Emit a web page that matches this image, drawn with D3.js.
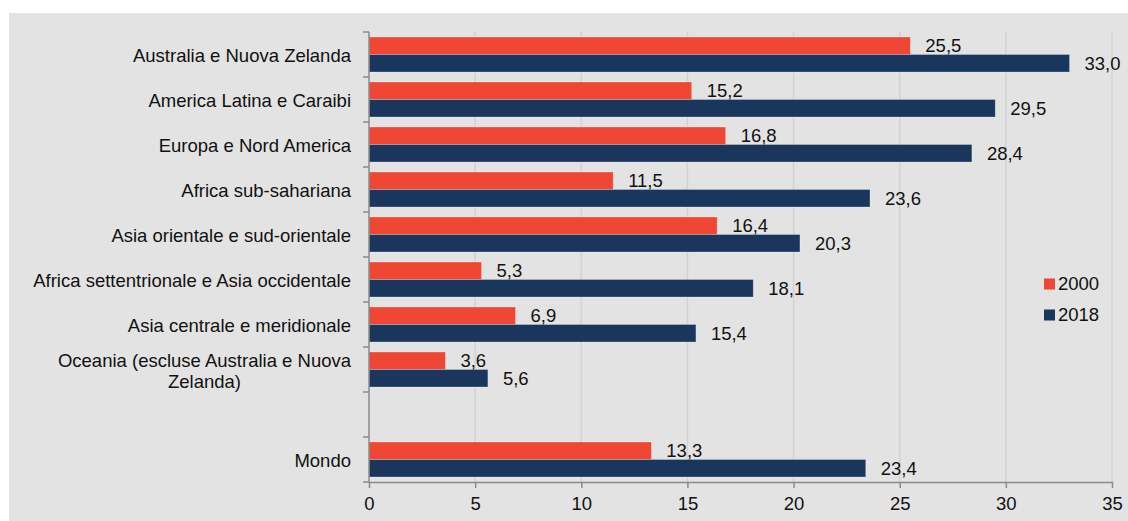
<!DOCTYPE html>
<html>
<head>
<meta charset="utf-8">
<script src="https://cdn.jsdelivr.net/npm/d3@7"></script>
<style>
  html, body { margin: 0; padding: 0; background: #ffffff; }
  svg { display: block; }
  text { font-family: "Liberation Sans", Arial, sans-serif; fill: #111; }
</style>
</head>
<body>
<svg id="chart" width="1128" height="521"></svg>
<script>
const categories = [
  "Australia e Nuova Zelanda",
  "America Latina e Caraibi",
  "Europa e Nord America",
  "Africa sub-sahariana",
  "Asia orientale e sud-orientale",
  "Africa settentrionale e Asia occidentale",
  "Asia centrale e meridionale",
  "Oceania (escluse Australia e Nuova Zelanda)",
  "",
  "Mondo"
];
const labelLines = [
  ["Australia e Nuova Zelanda"],
  ["America Latina e Caraibi"],
  ["Europa e Nord America"],
  ["Africa sub-sahariana"],
  ["Asia orientale e sud-orientale"],
  ["Africa settentrionale e Asia occidentale"],
  ["Asia centrale e meridionale"],
  ["Oceania (escluse Australia e Nuova", "Zelanda)"],
  [],
  ["Mondo"]
];
const series = ["2000", "2018"];
const values2000 = [25.5, 15.2, 16.8, 11.5, 16.4, 5.3, 6.9, 3.6, null, 13.3];
const values2018 = [33.0, 29.5, 28.4, 23.6, 20.3, 18.1, 15.4, 5.6, null, 23.4];
const xTicks = [0, 5, 10, 15, 20, 25, 30, 35];
const colors = { "2000": "#ef4733", "2018": "#1b365d" };

const svg = d3.select("#chart");
const FS = 18.5;

// background panel
svg.append("rect").attr("x", 9).attr("y", 13).attr("width", 1130).attr("height", 520).attr("fill", "#e3e3e3");

const x = d3.scaleLinear().domain([0, 35]).range([369, 1112]);
const y = d3.scaleBand().domain(categories.map((c, i) => i)).range([32, 482]).paddingInner(0).paddingOuter(0);
const ySub = d3.scaleBand().domain(series).range([0, y.bandwidth()]).paddingInner(0).paddingOuter(0.2857);

// gridlines
svg.append("g").selectAll("line").data(xTicks.filter(t => t > 0)).join("line")
  .attr("x1", d => x(d)).attr("x2", d => x(d))
  .attr("y1", 32).attr("y2", 482)
  .attr("stroke", "#d2d2d2").attr("stroke-width", 1.5);

const fmt = v => d3.format(".1f")(v).replace(".", ",");

const data = [];
categories.forEach((c, i) => {
  if (values2000[i] != null) data.push({ i, s: "2000", v: values2000[i] });
  if (values2018[i] != null) data.push({ i, s: "2018", v: values2018[i] });
});

// bars
svg.append("g").selectAll("rect").data(data).join("rect")
  .attr("x", x(0))
  .attr("y", d => y(d.i) + ySub(d.s))
  .attr("width", d => x(d.v) - x(0))
  .attr("height", ySub.bandwidth())
  .attr("fill", d => colors[d.s])
  .attr("stroke", "rgba(255,255,255,0.35)")
  .attr("stroke-width", 0.75);

// value labels
svg.append("g").selectAll("text").data(data).join("text")
  .attr("x", d => x(d.v) + 15)
  .attr("y", d => y(d.i) + ySub(d.s) + ySub.bandwidth() / 2)
  .attr("dy", "0.35em")
  .attr("font-size", FS)
  .text(d => fmt(d.v));

// x axis
const xAxis = d3.axisBottom(x).tickValues(xTicks).tickSize(6).tickSizeOuter(0).tickFormat(d3.format("d"));
const gx = svg.append("g").attr("transform", "translate(0,482)").call(xAxis);
gx.select(".domain").attr("stroke", "#8a8a8a").attr("stroke-width", 1.5);
gx.selectAll(".tick line").attr("stroke", "#8a8a8a").attr("stroke-width", 1.5);
gx.selectAll(".tick text").attr("font-size", FS).attr("font-family", "Liberation Sans, Arial, sans-serif").attr("fill", "#111").attr("dy", "1.05em");

// y axis line and ticks at band boundaries
svg.append("line").attr("x1", 369).attr("x2", 369).attr("y1", 32).attr("y2", 482)
  .attr("stroke", "#8a8a8a").attr("stroke-width", 1.5);
const bounds = categories.map((c, i) => y(i)).concat([y.range()[1]]);
svg.append("g").selectAll("line").data(bounds).join("line")
  .attr("x1", 363).attr("x2", 369).attr("y1", d => d).attr("y2", d => d)
  .attr("stroke", "#8a8a8a").attr("stroke-width", 1.5);

// category labels
const lg = svg.append("g");
labelLines.forEach((lines, i) => {
  if (!lines.length) return;
  const cy = y(i) + y.bandwidth() / 2 + 1;
  const lh = 21;
  if (lines.length === 1) {
    lg.append("text").attr("x", 351).attr("y", cy).attr("dy", "0.35em")
      .attr("text-anchor", "end").attr("font-size", FS).text(lines[0]);
  } else {
    const t1 = lg.append("text").attr("x", 351).attr("y", cy - lh / 2 + 1).attr("dy", "0.35em")
      .attr("text-anchor", "end").attr("font-size", FS).text(lines[0]);
    const w = t1.node().getComputedTextLength();
    lg.append("text").attr("x", 351 - w / 2).attr("y", cy + lh / 2 + 1).attr("dy", "0.35em")
      .attr("text-anchor", "middle").attr("font-size", FS).text(lines[1]);
  }
});

// legend
const leg = svg.append("g");
series.forEach((s, k) => {
  const ly = 284 + k * 31;
  leg.append("rect").attr("x", 1044).attr("y", ly - 5.5).attr("width", 11).attr("height", 11).attr("fill", colors[s]);
  leg.append("text").attr("x", 1058).attr("y", ly).attr("dy", "0.35em").attr("font-size", FS).text(s);
});
</script>
</body>
</html>
